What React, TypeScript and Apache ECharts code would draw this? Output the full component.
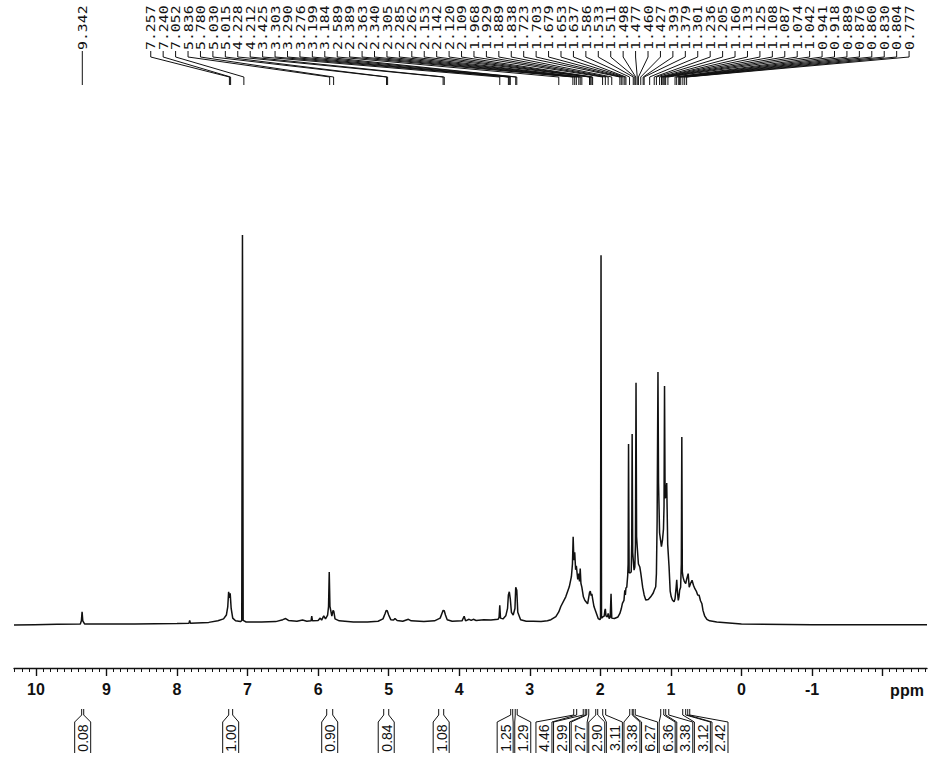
import React, { useEffect, useRef } from 'react';
import * as echarts from 'echarts';

// ---- axis (ppm) ----
const PPM_MAX = 10.31;
const PPM_MIN = -2.63;
const MAJOR_TICKS = [10, 9, 8, 7, 6, 5, 4, 3, 2, 1, 0, -1, -2];
const TICK_LABELS = [10, 9, 8, 7, 6, 5, 4, 3, 2, 1, 0, -1];
const AXIS_UNIT = 'ppm';

// ---- spectrum trace [ppm, intensity] ----
const SPECTRUM: [number, number][] = [
  [10.31, -0.8], [10.02, -0.7], [9.7, -0.6], [9.37, -0.5], [9.355, 0.3], [9.345, 2.6], [9.335, 0.3], [9.31, -0.5],
  [8.6, -0.5], [8.0, -0.4], [7.83, -0.3], [7.82, 0.4], [7.81, -0.3], [7.55, -0.1], [7.42, 0.3], [7.34, 0.8],
  [7.30, 1.8], [7.28, 4.0], [7.268, 7.8], [7.256, 6.2], [7.246, 7.4], [7.232, 3.5], [7.21, 1.0], [7.17, 0.3],
  [7.10, 0.1], [7.082, 0.4], [7.072, 100], [7.062, 0.4], [7.02, 0.0], [6.8, 0.0], [6.6, 0.1], [6.50, 0.6],
  [6.46, 0.9], [6.42, 0.4], [6.30, 0.2], [6.22, 0.5], [6.16, 0.2], [6.10, 0.3], [6.09, 1.5], [6.08, 0.3],
  [6.00, 0.4], [5.97, 1.0], [5.95, 0.5], [5.92, 1.6], [5.895, 0.8], [5.865, 1.8], [5.852, 4.0], [5.842, 12.9],
  [5.832, 4.0], [5.805, 1.5], [5.788, 3.0], [5.778, 2.8], [5.76, 0.8], [5.70, 0.3], [5.50, 0.0], [5.30, 0.0],
  [5.15, 0.2], [5.08, 0.8], [5.05, 2.2], [5.035, 3.0], [5.02, 2.9], [5.00, 1.8], [4.97, 0.6], [4.93, 0.5],
  [4.91, 0.9], [4.88, 0.4], [4.80, 0.2], [4.72, 0.7], [4.68, 0.3], [4.50, 0.1], [4.35, 0.3], [4.27, 1.0],
  [4.245, 2.2], [4.228, 3.0], [4.212, 2.9], [4.195, 1.8], [4.17, 0.6], [4.10, 0.2], [3.96, 0.3], [3.93, 1.5],
  [3.91, 0.3], [3.86, 0.7], [3.83, 0.4], [3.80, 0.7], [3.76, 0.4], [3.65, 0.6], [3.55, 0.5], [3.45, 0.7],
  [3.435, 1.2], [3.425, 4.3], [3.415, 1.0], [3.38, 0.8], [3.34, 1.6], [3.315, 3.5], [3.303, 7.0], [3.290, 7.8],
  [3.276, 6.0], [3.26, 2.5], [3.235, 1.8], [3.21, 3.5], [3.199, 9.0], [3.184, 8.2], [3.17, 2.5], [3.13, 0.6],
  [3.05, 0.2], [2.95, 0.2], [2.84, 0.1], [2.75, 0.3], [2.70, 0.6], [2.63, 1.4], [2.589, 2.6], [2.56, 4.0],
  [2.49, 6.5], [2.44, 9.1], [2.41, 11.7], [2.395, 15.0], [2.385, 22.0], [2.375, 16.0], [2.363, 18.0], [2.350, 13.5],
  [2.340, 14.5], [2.320, 11.0], [2.305, 12.5], [2.295, 10.5], [2.285, 13.8], [2.275, 10.0], [2.262, 9.0], [2.24, 6.5],
  [2.22, 5.6], [2.18, 4.7], [2.153, 7.6], [2.142, 8.0], [2.130, 6.8], [2.120, 7.3], [2.109, 6.0], [2.09, 4.0],
  [2.07, 3.0], [2.03, 0.9], [2.005, 0.6], [1.997, 1.0], [1.990, 94.8], [1.983, 1.0], [1.965, 1.3], [1.945, 1.5],
  [1.935, 3.0], [1.929, 3.4], [1.92, 1.6], [1.90, 1.3], [1.889, 2.2], [1.875, 0.9], [1.86, 1.2], [1.848, 7.3],
  [1.838, 1.0], [1.80, 0.9], [1.75, 1.3], [1.723, 2.2], [1.703, 3.4], [1.687, 4.8], [1.665, 5.6], [1.653, 8.2],
  [1.645, 7.0], [1.637, 8.8], [1.625, 9.0], [1.612, 12.0], [1.606, 15.0], [1.600, 46.0], [1.592, 12.7], [1.575, 12.7],
  [1.562, 13.0], [1.555, 20.0], [1.549, 48.6], [1.541, 18.0], [1.522, 13.4], [1.511, 14.2], [1.502, 20.0], [1.494, 61.8],
  [1.486, 22.0], [1.474, 18.6], [1.460, 15.0], [1.44, 14.2], [1.427, 12.7], [1.40, 9.0], [1.379, 7.0], [1.356, 5.7],
  [1.32, 5.8], [1.286, 6.5], [1.25, 7.5], [1.236, 8.2], [1.215, 9.1], [1.205, 12.5], [1.195, 26.0], [1.183, 64.6],
  [1.175, 36.0], [1.160, 23.0], [1.134, 19.5], [1.12, 21.0], [1.105, 24.0], [1.097, 30.0], [1.090, 61.0], [1.082, 32.0],
  [1.072, 32.5], [1.059, 35.9], [1.045, 20.0], [1.026, 14.3], [1.01, 8.0], [0.995, 6.5], [0.978, 5.7], [0.955, 5.2],
  [0.941, 6.0], [0.925, 9.0], [0.917, 10.9], [0.908, 8.0], [0.895, 5.6], [0.885, 6.5], [0.876, 8.2], [0.862, 9.0],
  [0.852, 15.0], [0.845, 47.8], [0.838, 13.0], [0.828, 11.6], [0.81, 10.5], [0.79, 9.9], [0.777, 11.0], [0.755, 12.5],
  [0.74, 9.0], [0.72, 10.0], [0.70, 10.8], [0.68, 9.5], [0.66, 8.6], [0.64, 8.0], [0.62, 7.0], [0.60, 6.9],
  [0.58, 5.5], [0.56, 4.7], [0.545, 3.0], [0.52, 1.5], [0.49, 0.7], [0.45, 0.3], [0.35, 0.0], [0.0, -0.5],
  [-1.0, -0.7], [-2.63, -0.7],
];

// ---- peak pick labels (top) ----
const PEAK_PPM = [
  9.342, 7.257, 7.240, 7.052, 5.836, 5.780, 5.030, 5.015, 4.228, 4.212, 3.425, 3.303, 3.290, 3.276, 3.199, 3.184,
  2.589, 2.389, 2.363, 2.340, 2.305, 2.285, 2.262, 2.153, 2.142, 2.120, 2.109, 1.968, 1.929, 1.889, 1.838, 1.723,
  1.703, 1.679, 1.653, 1.637, 1.586, 1.533, 1.511, 1.498, 1.477, 1.460, 1.427, 1.393, 1.379, 1.301, 1.236, 1.205,
  1.160, 1.133, 1.125, 1.108, 1.087, 1.074, 1.042, 0.941, 0.918, 0.889, 0.876, 0.860, 0.830, 0.804, 0.777,
];

// ---- integrals (bottom) ----
const INTEGRAL_VALUES = [0.08, 1.00, 0.90, 0.84, 1.08, 1.25, 1.29, 4.46, 2.99, 2.27, 2.90, 3.11, 3.38, 6.27, 6.36, 3.38, 3.12, 2.42];
const INTEGRAL_FROM = [9.351, 7.267, 5.878, 5.070, 4.291, 3.270, 3.206, 2.377, 2.242, 2.193, 2.065, 1.966, 1.583, 1.534, 1.144, 1.073, 0.832, 0.761];
const INTEGRAL_TO = [9.322, 7.211, 5.793, 4.999, 4.220, 3.242, 3.178, 2.335, 2.214, 2.164, 2.037, 1.924, 1.548, 1.505, 1.101, 1.030, 0.790, 0.733];

// layout constants (ppm units along the axis)
const LABEL_FIRST_SLOT = 8.372;
const LABEL_STEP = 0.1762;
const BOX_STEP = 0.2495;

const INK = '#111';

function labelSlots(): number[] {
  return PEAK_PPM.map((p, i) => (i === 0 ? p : LABEL_FIRST_SLOT - (i - 1) * LABEL_STEP));
}

function boxCenters(): number[] {
  const desired = INTEGRAL_FROM.map((f, i) => (f + INTEGRAL_TO[i]) / 2);
  let clusters: number[][] = desired.map((_, i) => [i]);
  const place = (c: number[]) => {
    const center = (desired[c[0]] + desired[c[c.length - 1]]) / 2;
    const top = center + ((c.length - 1) / 2) * BOX_STEP;
    return c.map((_, k) => top - k * BOX_STEP);
  };
  let merged = true;
  while (merged) {
    merged = false;
    for (let i = 0; i < clusters.length - 1; i++) {
      const a = place(clusters[i]);
      const b = place(clusters[i + 1]);
      if (a[a.length - 1] - b[0] < BOX_STEP - 1e-9) {
        clusters[i] = clusters[i].concat(clusters[i + 1]);
        clusters.splice(i + 1, 1);
        merged = true;
        break;
      }
    }
  }
  const out: number[] = new Array(desired.length);
  clusters.forEach((c) => {
    const pos = place(c);
    c.forEach((idx, k) => (out[idx] = pos[k]));
  });
  return out;
}

function minorTicks(): number[] {
  const res: number[] = [];
  for (let k = -3; k <= 10; k++) {
    for (let j = 1; j <= 9; j++) {
      const v = Math.round((k + j / 10) * 10) / 10;
      if (v > PPM_MIN && v < PPM_MAX) res.push(v);
    }
  }
  return res;
}

export default function App() {
  const ref = useRef<HTMLDivElement>(null);

  useEffect(() => {
    document.body.style.margin = '0';
    if (!ref.current) return;
    const chart = echarts.init(ref.current, null, { renderer: 'svg' });
    const slots = labelSlots();
    const centers = boxCenters();

    const option: any = {
      animation: false,
      backgroundColor: '#fff',
      grid: { left: 14, right: 17, top: 100, bottom: 100 },
      xAxis: [
        {
          type: 'value',
          min: PPM_MIN,
          max: PPM_MAX,
          inverse: true,
          position: 'bottom',
          axisLine: { show: true, onZero: false, lineStyle: { color: INK, width: 1.4 } },
          axisTick: { show: true, customValues: MAJOR_TICKS, length: 8, lineStyle: { color: INK, width: 1.4 } },
          axisLabel: {
            show: true,
            customValues: TICK_LABELS,
            margin: 13,
            color: INK,
            fontFamily: '"Liberation Sans", Arial, sans-serif',
            fontWeight: 'bold',
            fontSize: 16,
            formatter: (v: number) => String(v),
          },
          splitLine: { show: false },
        },
        {
          type: 'value',
          min: PPM_MIN,
          max: PPM_MAX,
          inverse: true,
          position: 'bottom',
          axisLine: { show: false, onZero: false },
          axisTick: { show: true, customValues: minorTicks(), length: 4, lineStyle: { color: INK, width: 1 } },
          axisLabel: { show: false },
          splitLine: { show: false },
        },
      ],
      yAxis: { type: 'value', min: -11.89, max: 134.9, show: false },
      graphic: [
        {
          type: 'text',
          x: 907,
          y: 690,
          style: {
            text: AXIS_UNIT,
            fill: INK,
            font: 'bold 16px "Liberation Sans", Arial, sans-serif',
            align: 'center',
            verticalAlign: 'middle',
          },
        },
      ],
      series: [
        {
          type: 'line',
          xAxisIndex: 0,
          data: SPECTRUM,
          showSymbol: false,
          symbol: 'none',
          silent: true,
          lineStyle: { color: INK, width: 1.5 },
        },
        {
          type: 'custom',
          xAxisIndex: 0,
          silent: true,
          data: PEAK_PPM.map((p, i) => [p, slots[i]]),
          encode: { x: 0, y: 1 },
          renderItem: (params: any, api: any) => {
            const xp = api.coord([api.value(0), 0])[0];
            const xl = api.coord([api.value(1), 0])[0];
            const label = PEAK_PPM[params.dataIndex].toFixed(3);
            return {
              type: 'group',
              children: [
                {
                  type: 'polyline',
                  shape: { points: [[xl, 51], [xl, 57], [xp, 77], [xp, 85]] },
                  style: { stroke: INK, lineWidth: 1, fill: 'none' },
                },
                {
                  type: 'text',
                  x: xl,
                  y: 50,
                  rotation: Math.PI / 2,
                  scaleX: 1.14,
                  style: {
                    text: label,
                    fill: INK,
                    font: '13px "DejaVu Sans Mono", monospace',
                    align: 'left',
                    verticalAlign: 'middle',
                  },
                },
              ],
            };
          },
        },
        {
          type: 'custom',
          xAxisIndex: 0,
          silent: true,
          data: INTEGRAL_VALUES.map((v, i) => [INTEGRAL_FROM[i], INTEGRAL_TO[i], centers[i]]),
          encode: { x: 0, y: 1 },
          renderItem: (params: any, api: any) => {
            const xa = api.coord([api.value(0), 0])[0];
            const xb = api.coord([api.value(1), 0])[0];
            const xc = api.coord([api.value(2), 0])[0];
            const half = 8;
            const txt = INTEGRAL_VALUES[params.dataIndex].toFixed(2);
            return {
              type: 'group',
              children: [
                {
                  type: 'polyline',
                  shape: { points: [[xa, 709], [xa, 715], [xc - half, 722], [xc - half, 753]] },
                  style: { stroke: INK, lineWidth: 1, fill: 'none' },
                },
                {
                  type: 'polyline',
                  shape: { points: [[xb, 709], [xb, 715], [xc + half, 722], [xc + half, 753]] },
                  style: { stroke: INK, lineWidth: 1, fill: 'none' },
                },
                {
                  type: 'text',
                  x: xc + 0.5,
                  y: 738,
                  rotation: Math.PI / 2,
                  style: {
                    text: txt,
                    fill: INK,
                    font: '14px "Liberation Sans", Arial, sans-serif',
                    align: 'center',
                    verticalAlign: 'middle',
                  },
                },
              ],
            };
          },
        },
      ],
    };

    chart.setOption(option);
    return () => chart.dispose();
  }, []);

  return <div ref={ref} style={{ width: 944, height: 768, background: '#fff' }} />;
}
